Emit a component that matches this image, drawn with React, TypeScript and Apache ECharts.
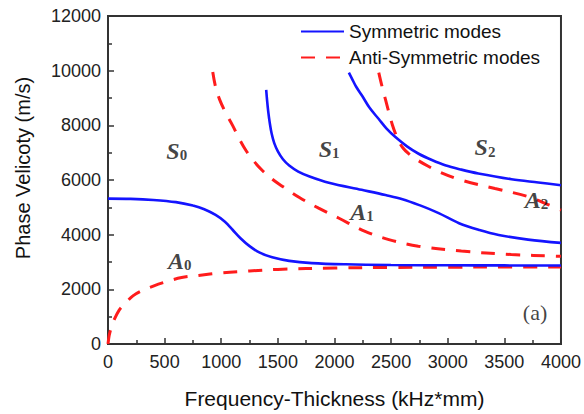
import React, { useEffect, useRef } from "react";
import * as echarts from "echarts";

// Frequency-thickness (kHz*mm), phase velocity (m/s)
const S0: number[][] = [[0,5320],[200,5310],[400,5270],[600,5190],[750,5065],[850,4930],[950,4720],[1030,4480],[1100,4180],[1170,3870],[1250,3580],[1340,3340],[1450,3170],[1600,3040],[1800,2960],[2100,2915],[2500,2890],[3000,2880],[3500,2875],[4000,2870]];
const S1: number[][] = [[1397,9300],[1405,8900],[1415,8500],[1428,8100],[1445,7700],[1468,7350],[1500,7050],[1545,6760],[1600,6530],[1680,6310],[1780,6130],[1950,5900],[2240,5640],[2450,5450],[2600,5300],[2750,5080],[2920,4790],[3100,4420],[3280,4170],[3450,3990],[3710,3820],[4000,3700]];
const S2: number[][] = [[2127,9930],[2155,9700],[2190,9420],[2244,9080],[2310,8640],[2391,8230],[2460,7880],[2538,7570],[2640,7230],[2743,6960],[2860,6730],[2977,6540],[3120,6380],[3270,6240],[3563,6030],[3800,5910],[4000,5810]];
const A0: number[][] = [[0,0],[10,300],[25,550],[50,850],[100,1250],[150,1480],[220,1760],[300,1950],[400,2120],[500,2260],[650,2430],[800,2510],[1000,2600],[1250,2670],[1500,2730],[2000,2780],[2500,2800],[3000,2810],[3500,2815],[4000,2820]];
const A1: number[][] = [[925,9950],[950,9400],[985,8950],[1040,8450],[1100,8000],[1160,7500],[1220,7070],[1290,6680],[1365,6340],[1450,6030],[1550,5740],[1690,5360],[1860,4970],[2040,4600],[2270,4120],[2480,3820],[2740,3580],[3120,3400],[3560,3275],[3950,3215],[4000,3210]];
const A2: number[][] = [[2391,9930],[2420,9420],[2450,8950],[2480,8480],[2510,8030],[2540,7680],[2570,7400],[2605,7170],[2650,6980],[2714,6780],[2820,6520],[2919,6310],[3124,5990],[3417,5690],[3710,5390],[3880,5110],[4000,4900]];

const SYM_NAME = "Symmetric modes";
const ANTI_NAME = "Anti-Symmetric modes";

// Mode labels: [x, y, letter, subscript]
const MODE_LABELS: [number, number, string, string][] = [
  [607, 7070, "S", "0"],
  [1952, 7150, "S", "1"],
  [3329, 7200, "S", "2"],
  [633, 3046, "A", "0"],
  [2244, 4847, "A", "1"],
  [3783, 5270, "A", "2"],
];
const PANEL_LABEL: [number, number, string] = [3771, 1160, "(a)"];

const X_TITLE = "Frequency-Thickness (kHz*mm)";
const Y_TITLE = "Phase Velicoty (m/s)";

const BLUE = "#1414ff";
const RED = "#ff1c1c";
const SANS = "Liberation Sans, Arial, sans-serif";
const SERIF = "Liberation Serif, Times New Roman, serif";

export default function App() {
  const ref = useRef<HTMLDivElement>(null);
  useEffect(() => {
    if (!ref.current) return;
    const chart = echarts.init(ref.current, null, { renderer: "svg" });
    const sym = (data: number[][]) => ({
      type: "line",
      name: SYM_NAME,
      data,
      smooth: 0.35,
      symbol: "none",
      lineStyle: { color: BLUE, width: 2.6 },
      itemStyle: { color: BLUE },
      z: 3,
    });
    const anti = (data: number[][]) => ({
      type: "line",
      name: ANTI_NAME,
      data,
      smooth: 0.35,
      symbol: "none",
      lineStyle: { color: RED, width: 3, type: [14, 11], cap: "butt" },
      itemStyle: { color: RED },
      z: 2,
    });
    chart.setOption({
      animation: false,
      backgroundColor: "#ffffff",
      grid: {
        left: 108,
        right: 21,
        top: 16,
        bottom: 67,
        show: true,
        borderColor: "#333",
        borderWidth: 2,
        backgroundColor: "transparent",
      },
      legend: {
        data: [SYM_NAME, ANTI_NAME],
        orient: "vertical",
        left: 295,
        top: 17,
        itemWidth: 43,
        itemHeight: 14,
        itemGap: 7,
        itemStyle: { opacity: 0, color: "transparent", borderWidth: 0 },
        textStyle: { fontFamily: SANS, fontSize: 19, color: "#111" },
      },
      xAxis: {
        type: "value",
        min: 0,
        max: 4000,
        interval: 500,
        name: X_TITLE,
        nameLocation: "middle",
        nameGap: 44,
        nameTextStyle: { fontFamily: SANS, fontSize: 21, color: "#111" },
        axisLine: { show: true, lineStyle: { color: "#333", width: 2 } },
        axisTick: { show: true, inside: true, length: 6, lineStyle: { color: "#333", width: 1.5 } },
        minorTick: { show: true, splitNumber: 2, length: 4, lineStyle: { color: "#333", width: 1.5 } },
        axisLabel: { fontFamily: SANS, fontSize: 18, color: "#222", margin: 9, formatter: (v: number) => String(v) },
        splitLine: { show: false },
      },
      yAxis: {
        type: "value",
        min: 0,
        max: 12000,
        interval: 2000,
        axisLine: { show: true, lineStyle: { color: "#333", width: 2 } },
        axisTick: { show: true, inside: true, length: 6, lineStyle: { color: "#333", width: 1.5 } },
        minorTick: { show: true, splitNumber: 2, length: 4, lineStyle: { color: "#333", width: 1.5 } },
        axisLabel: { fontFamily: SANS, fontSize: 18, color: "#222", margin: 7, formatter: (v: number) => String(v) },
        splitLine: { show: false },
      },
      graphic: [
        {
          type: "text",
          x: 23,
          y: 168,
          rotation: Math.PI / 2,
          style: {
            text: Y_TITLE,
            fontFamily: SANS,
            fontSize: 20,
            fill: "#111",
            align: "center",
            verticalAlign: "middle",
          },
        },
      ],
      series: [
        sym(S0),
        sym(S1),
        sym(S2),
        anti(A0),
        anti(A1),
        anti(A2),
        {
          type: "scatter",
          name: "labels",
          symbolSize: 0,
          silent: true,
          z: 5,
          data: MODE_LABELS.map((d) => ({ value: [d[0], d[1]], letter: d[2], sub: d[3] })),
          label: {
            show: true,
            position: "inside",
            formatter: (p: any) => `{m|${p.data.letter}}{s|${p.data.sub}}`,
            rich: {
              m: { fontFamily: SERIF, fontStyle: "italic", fontWeight: "bold", fontSize: 24, color: "#111", lineHeight: 24 },
              s: { fontFamily: SERIF, fontWeight: "bold", fontSize: 15, color: "#111", verticalAlign: "bottom", lineHeight: 6 },
            },
          },
        },
        {
          type: "scatter",
          name: "panel",
          symbolSize: 0,
          silent: true,
          z: 5,
          data: [[PANEL_LABEL[0], PANEL_LABEL[1]]],
          label: {
            show: true,
            position: "inside",
            formatter: PANEL_LABEL[2],
            fontFamily: SERIF,
            fontSize: 22,
            color: "#111",
          },
        },
      ],
    });
    return () => chart.dispose();
  }, []);
  return <div ref={ref} style={{ width: 584, height: 414, position: "absolute", left: 0, top: 0 }} />;
}
